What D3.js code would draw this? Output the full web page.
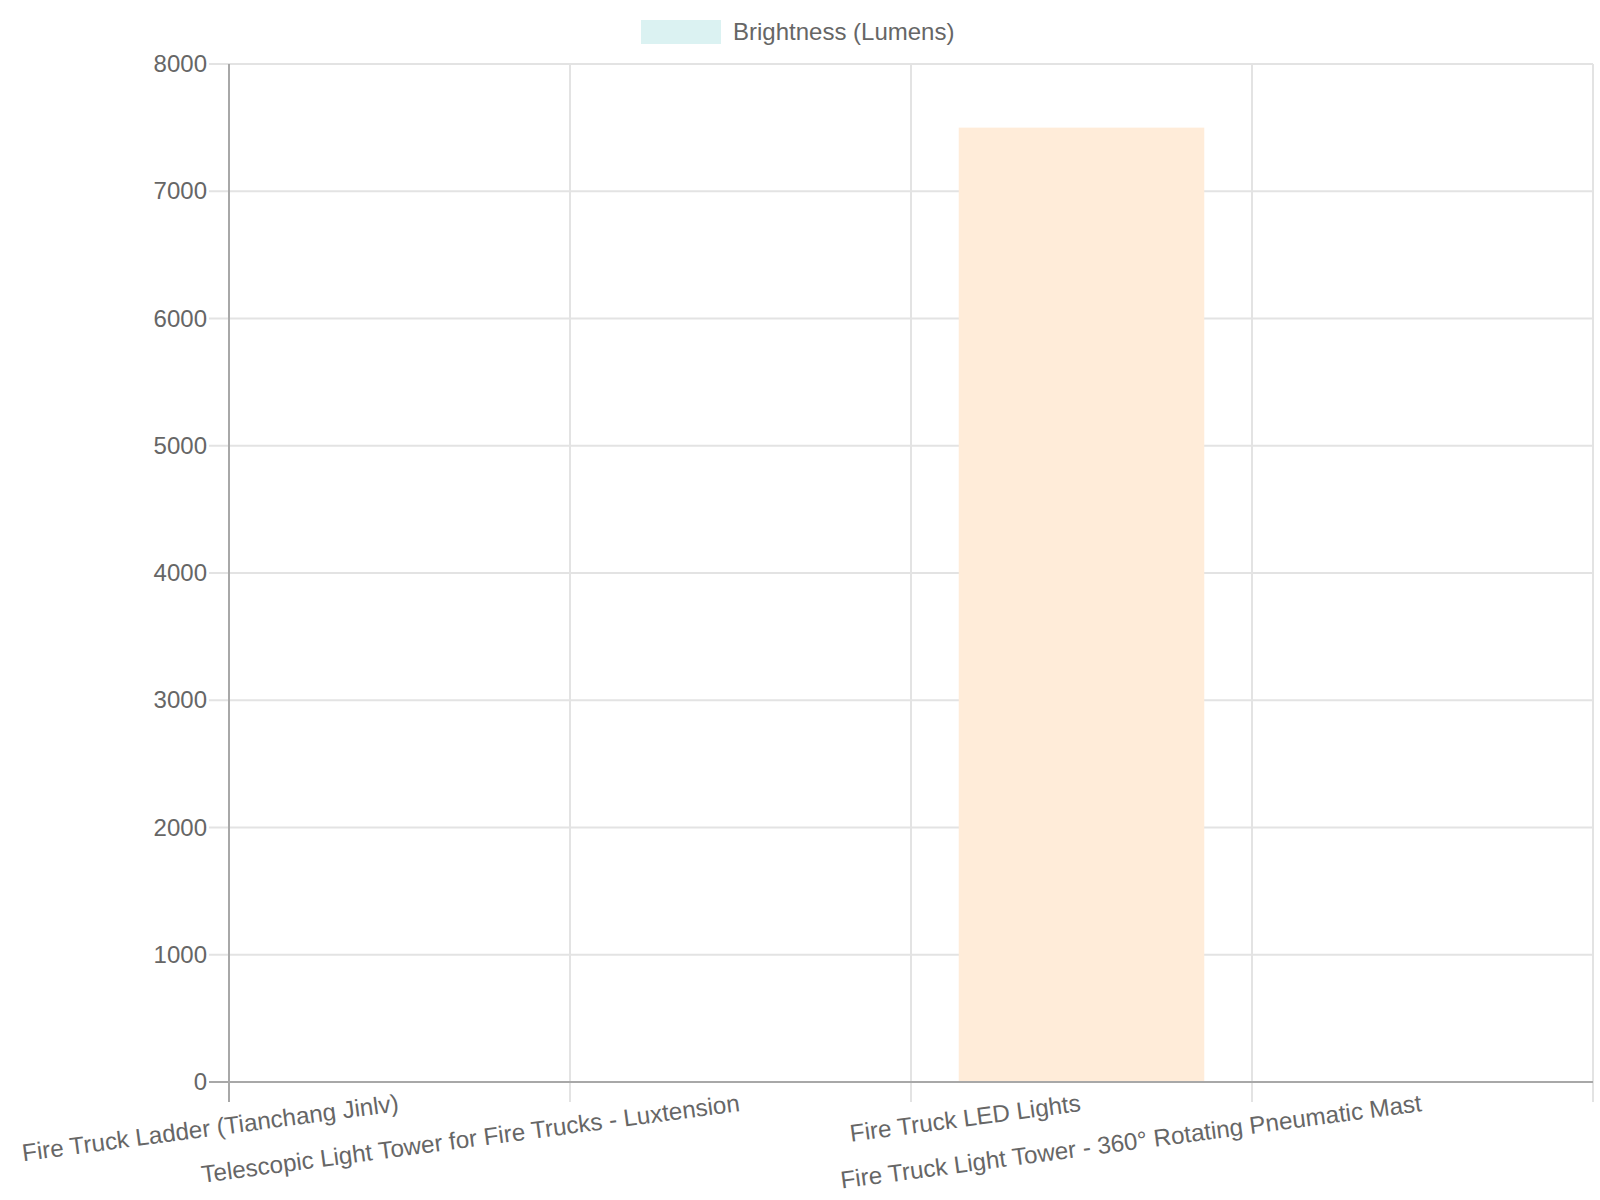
<!DOCTYPE html>
<html>
<head>
<meta charset="utf-8">
<script src="https://cdn.jsdelivr.net/npm/d3@7"></script>
<style>
  body { margin: 0; background: #fff; }
  text { font-family: "Liberation Sans", Arial, sans-serif; fill: #666; }
</style>
</head>
<body>
<div id="chart"></div>
<script>
// data
var categories = [
    "Fire Truck Ladder (Tianchang Jinlv)",
    "Telescopic Light Tower for Fire Trucks - Luxtension",
    "Fire Truck LED Lights",
    "Fire Truck Light Tower - 360° Rotating Pneumatic Mast"
];
var brightness = [0, 0, 7500, 0];
var seriesName = "Brightness (Lumens)";
var yTicks = [0, 1000, 2000, 3000, 4000, 5000, 6000, 7000, 8000];
var barColors = ["#dbf2f2", "#d7ecfb", "#ffecd9", "#ebe0ff"];

var w = 1600,
    h = 1200,
    padLeft = 229,
    padRight = 1593,
    padTop = 64,
    padBottom = 1082,
    tickLen = 20;

var svg = d3.select("#chart")
    .append("svg")
    .attr("width", w)
    .attr("height", h);

var x = d3.scaleBand().domain(categories).range([padLeft, padRight]).padding(0);
var y = d3.scaleLinear().domain([0, 8000]).range([padBottom, padTop]);

// horizontal grid + tick marks
svg.append("g")
    .selectAll("line")
    .data(yTicks)
    .enter()
    .append("line")
    .attr("x1", padLeft - tickLen)
    .attr("x2", padRight)
    .attr("y1", function (d) { return y(d); })
    .attr("y2", function (d) { return y(d); })
    .style("stroke", "#e3e3e3")
    .style("stroke-width", "2px");

// vertical grid (category boundaries)
var bounds = categories.map(function (c) { return x(c); }).concat([padRight]);
svg.append("g")
    .selectAll("line")
    .data(bounds)
    .enter()
    .append("line")
    .attr("x1", function (d) { return d; })
    .attr("x2", function (d) { return d; })
    .attr("y1", padTop)
    .attr("y2", padBottom + tickLen)
    .style("stroke", "#e3e3e3")
    .style("stroke-width", "2px");

// bars
var barW = x.bandwidth() * 0.72;
svg.append("g")
    .selectAll("rect")
    .data(brightness)
    .enter()
    .append("rect")
    .attr("x", function (d, i) { return x(categories[i]) + (x.bandwidth() - barW) / 2; })
    .attr("y", function (d) { return y(d); })
    .attr("width", barW)
    .attr("height", function (d) { return y(0) - y(d); })
    .style("fill", function (d, i) { return barColors[i]; });

// axis lines on top
svg.append("line")
    .attr("x1", padLeft - tickLen).attr("x2", padRight)
    .attr("y1", y(0)).attr("y2", y(0))
    .style("stroke", "#a8a8a8").style("stroke-width", "2px");
svg.append("line")
    .attr("x1", padLeft).attr("x2", padLeft)
    .attr("y1", padTop).attr("y2", padBottom + tickLen)
    .style("stroke", "#a8a8a8").style("stroke-width", "2px");

// y axis labels
var yAxis = d3.axisLeft(y).tickValues(yTicks).tickSize(0).tickPadding(22).tickFormat(d3.format("d"));
var gy = svg.append("g")
    .attr("transform", "translate(" + padLeft + ",0)")
    .call(yAxis);
gy.select(".domain").remove();
gy.selectAll("text")
    .style("font-size", "24px")
    .style("font-family", "'Liberation Sans', Arial, sans-serif")
    .style("fill", "#666");

// x axis labels (rotated)
svg.append("g")
    .selectAll("text")
    .data(categories)
    .enter()
    .append("text")
    .attr("transform", function (d) {
        return "translate(" + (x(d) + x.bandwidth() / 2) + "," + 1111 + ") rotate(-7.6)";
    })
    .attr("text-anchor", "end")
    .style("font-size", "24.2px")
    .text(function (d) { return d; });

// legend
var legend = svg.append("g");
legend.append("rect")
    .attr("x", 641)
    .attr("y", 20)
    .attr("width", 80)
    .attr("height", 24)
    .style("fill", barColors[0]);
legend.append("text")
    .attr("x", 733)
    .attr("y", 32)
    .attr("dy", "0.35em")
    .style("font-size", "24px")
    .text(seriesName);
</script>
</body>
</html>
